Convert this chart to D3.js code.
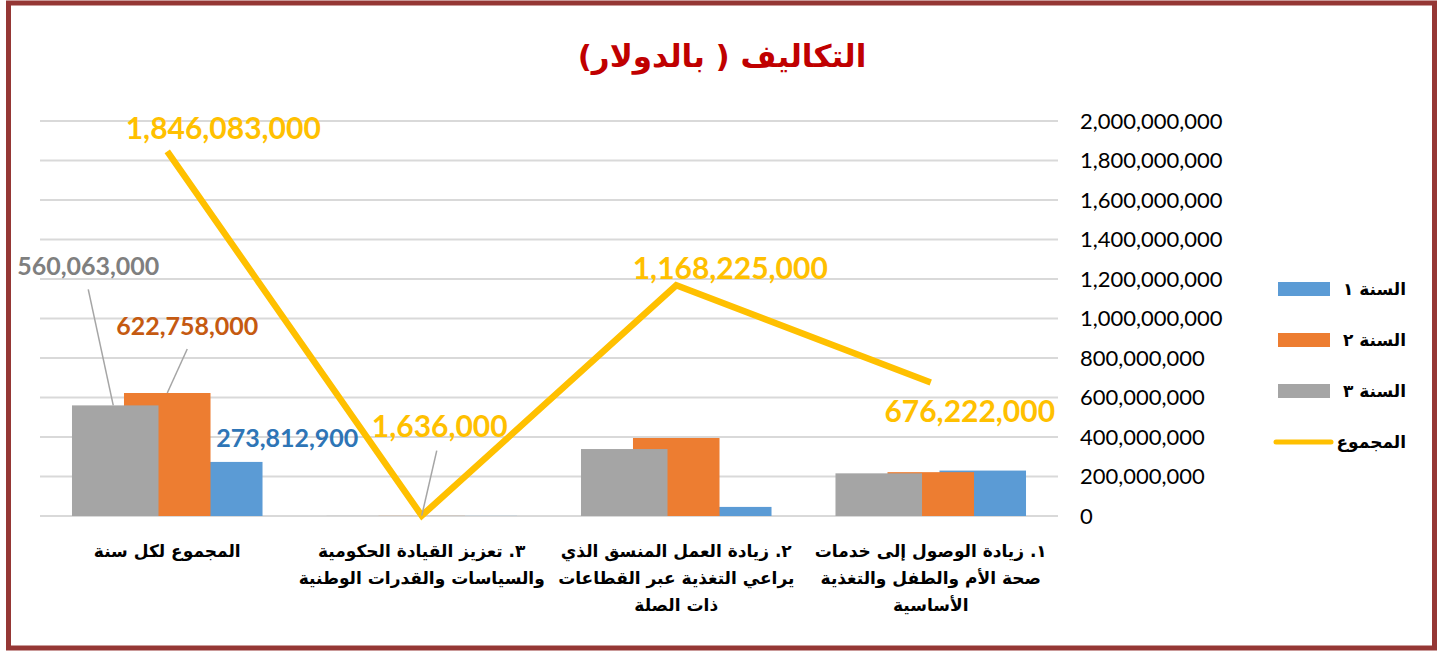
<!DOCTYPE html>
<html>
<head>
<meta charset="utf-8">
<script src="https://cdn.jsdelivr.net/npm/d3@7"></script>
<style>
  body { margin: 0; background: #fff; }
  svg { display: block; }
  .num { font-family: Lato, "Open Sans", sans-serif; }
  .ar { font-family: "DejaVu Sans", sans-serif; font-weight: bold; }
</style>
</head>
<body>
<div id="chart"></div>
<script>
// categories, rightmost first (the axis runs right to left)
const categories = [
    ["١. زيادة الوصول إلى خدمات", "صحة الأم والطفل والتغذية", "الأساسية"],
    ["٢. زيادة العمل المنسق الذي", "يراعي التغذية عبر القطاعات", "ذات الصلة"],
    ["٣. تعزيز القيادة الحكومية", "والسياسات والقدرات الوطنية"],
    ["المجموع لكل سنة"]
];
const catKeys = ["c1", "c2", "c3", "c4"];

const year1 = [230000000, 46000000, 500000, 273812900];
const year2 = [222000000, 395000000, 600000, 622758000];
const year3 = [216000000, 339000000, 536000, 560063000];
const totals = [676222000, 1168225000, 1636000, 1846083000];

const seriesNames = ["السنة ١", "السنة ٢", "السنة ٣", "المجموع"];
const colors = { y1: "#5b9bd5", y2: "#ed7d31", y3: "#a5a5a5", total: "#ffc000" };
const labelColors = { y1: "#2e75b6", y2: "#c55a11", y3: "#7f7f7f", total: "#ffc000" };

const yTicks = d3.range(0, 2000000001, 200000000);

const W = 1443, H = 651;
const svg = d3.select("#chart").append("svg").attr("width", W).attr("height", H);

// frame
svg.append("rect")
    .attr("x", 8.5).attr("y", 3)
    .attr("width", 1426).attr("height", 645)
    .attr("fill", "none").attr("stroke", "#953735").attr("stroke-width", 5);

// title
svg.append("text")
    .attr("class", "ar")
    .attr("x", 722).attr("y", 67)
    .attr("text-anchor", "middle")
    .attr("direction", "rtl")
    .attr("font-size", 31)
    .attr("fill", "#c00000")
    .text("التكاليف ( بالدولار)");

const x = d3.scaleBand().domain(catKeys).range([1058, 40]);
const y = d3.scaleLinear().domain([0, 2000000000]).range([516, 121]);
const barW = x.bandwidth() * 0.34;
const off = d3.scalePoint().domain(["y3", "y2", "y1"]).range([-52, 52]);
const cx = k => x(k) + x.bandwidth() / 2;

// gridlines
svg.append("g").selectAll("line").data(yTicks).join("line")
    .attr("x1", 40).attr("x2", 1058)
    .attr("y1", d => y(d)).attr("y2", d => y(d))
    .attr("stroke", "#d9d9d9").attr("stroke-width", 2);

// y axis on the right
const yAxis = svg.append("g")
    .attr("transform", "translate(1080,0)")
    .call(d3.axisRight(y).tickValues(yTicks).tickSize(0).tickPadding(0).tickFormat(d3.format(",")));
yAxis.select(".domain").remove();
yAxis.selectAll("text")
    .attr("class", "num")
    .attr("font-size", 22)
    .attr("fill", "#000");

// bars: blue under orange under grey
const barSeries = [
    { key: "y1", values: year1 },
    { key: "y2", values: year2 },
    { key: "y3", values: year3 }
];
barSeries.forEach(s => {
    svg.append("g").selectAll("rect").data(s.values).join("rect")
        .attr("x", (d, i) => cx(catKeys[i]) + off(s.key) - barW / 2)
        .attr("width", barW)
        .attr("y", d => y(d))
        .attr("height", d => y(0) - y(d))
        .attr("fill", colors[s.key]);
});

// total line
const line = d3.line().x((d, i) => cx(catKeys[i])).y(d => y(d));
svg.append("path")
    .datum(totals)
    .attr("d", line)
    .attr("fill", "none")
    .attr("stroke", colors.total)
    .attr("stroke-width", 6.5)
    .attr("stroke-linejoin", "miter");

// data labels (offsets from the point, leader = draw a grey callout line)
const labels = [
    { key: "total", i: 0, v: totals[0], dx: 39, dy: 40, size: 30 },
    { key: "total", i: 1, v: totals[1], dx: 54, dy: -6, size: 30 },
    { key: "total", i: 2, v: totals[2], dx: 18, dy: -79, size: 30, leader: true },
    { key: "total", i: 3, v: totals[3], dx: 56, dy: -12, size: 30 },
    { key: "y3", i: 3, v: year3[3], dx: -27, dy: -130, size: 25, leader: true },
    { key: "y2", i: 3, v: year2[3], dx: 20, dy: -58, size: 25, leader: true },
    { key: "y1", i: 3, v: year1[3], dx: 68, dy: -15, size: 25 }
];
labels.forEach(l => {
    const px = cx(catKeys[l.i]) + (l.key === "total" ? 0 : off(l.key));
    const py = y(l.v);
    if (l.leader) {
        svg.append("line")
            .attr("x1", px + l.dx - (l.key === "total" ? 3 : 0)).attr("y1", py + l.dy + 14)
            .attr("x2", px - (l.key === "y3" ? 2 : 0)).attr("y2", py)
            .attr("stroke", "#a5a5a5").attr("stroke-width", 1.5);
    }
    svg.append("text")
        .attr("class", "num")
        .attr("x", px + l.dx).attr("y", py + l.dy)
        .attr("text-anchor", "middle")
        .attr("font-size", l.size)
        .attr("font-weight", "bold")
        .attr("fill", labelColors[l.key])
        .text(d3.format(",")(l.v));
});

// category labels
categories.forEach((lines, i) => {
    const t = svg.append("text")
        .attr("class", "ar")
        .attr("text-anchor", "middle")
        .attr("direction", "rtl")
        .attr("font-size", 17)
        .attr("fill", "#000");
    lines.forEach((s, j) => {
        t.append("tspan")
            .attr("x", cx(catKeys[i]))
            .attr("y", 557 + j * 27)
            .text(s);
    });
});

// legend
const legend = svg.append("g");
const legendKeys = ["y1", "y2", "y3", "total"];
const legendY = d3.scalePoint().domain(legendKeys).range([289, 442]);
legendKeys.forEach((k, i) => {
    const ly = legendY(k);
    if (k === "total") {
        legend.append("line")
            .attr("x1", 1276).attr("x2", 1331)
            .attr("y1", ly).attr("y2", ly)
            .attr("stroke", colors.total).attr("stroke-width", 5)
            .attr("stroke-linecap", "round");
    } else {
        legend.append("rect")
            .attr("x", 1278).attr("y", ly - 7)
            .attr("width", 52).attr("height", 14)
            .attr("fill", colors[k]);
    }
    legend.append("text")
        .attr("class", "ar")
        .attr("x", 1406).attr("y", ly + 6)
        .attr("text-anchor", "start")
        .attr("direction", "rtl")
        .attr("font-size", 17)
        .attr("fill", "#000")
        .text(seriesNames[i]);
});
</script>
</body>
</html>
